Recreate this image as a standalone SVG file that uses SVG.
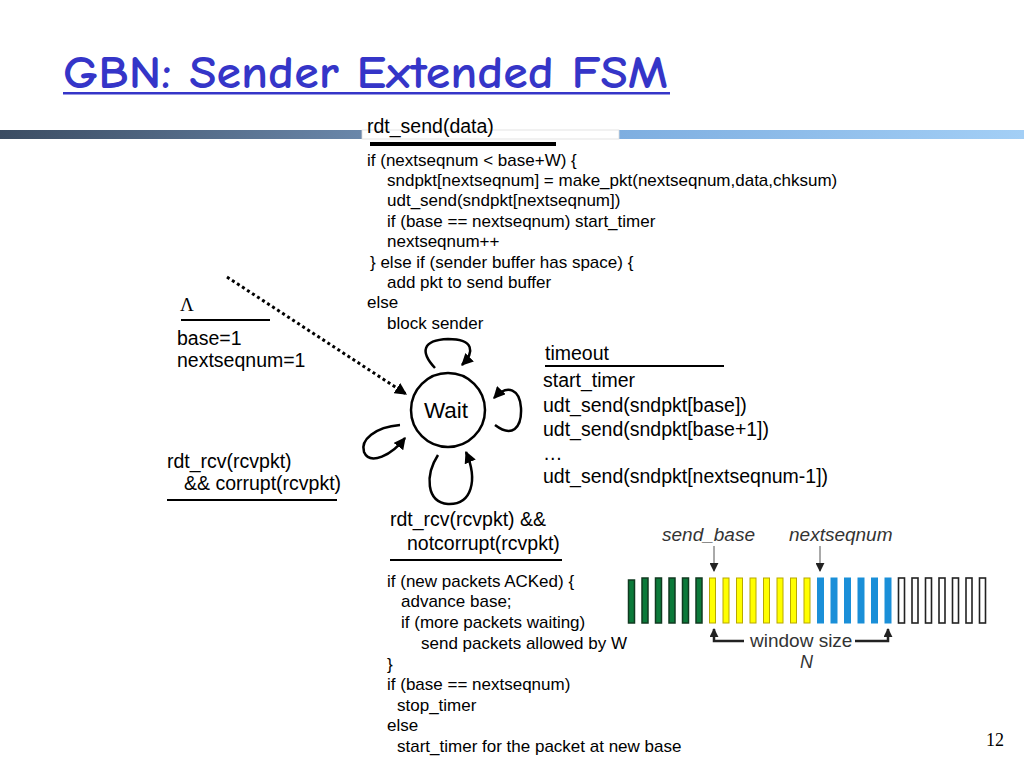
<svg xmlns="http://www.w3.org/2000/svg" width="1024" height="768" viewBox="0 0 1024 768">
<defs>
<linearGradient id="gl" x1="0" y1="0" x2="1" y2="0"><stop offset="0" stop-color="#3b4c62"/><stop offset="1" stop-color="#6a87aa"/></linearGradient>
<linearGradient id="gr" x1="0" y1="0" x2="1" y2="0"><stop offset="0" stop-color="#7eaee0"/><stop offset="1" stop-color="#a3cff6"/></linearGradient>
<marker id="ahs" viewBox="0 0 10 10" refX="9" refY="5" markerWidth="12" markerHeight="12" orient="auto" markerUnits="userSpaceOnUse"><path d="M0,0 L10,5 L0,10 z" fill="#000"/></marker>
<marker id="ahk" viewBox="0 0 10 10" refX="9" refY="5" markerWidth="9" markerHeight="9" orient="auto" markerUnits="userSpaceOnUse"><path d="M0,0 L10,5 L0,10 z" fill="#222"/></marker>
</defs>
<style>
.t{font-family:"Liberation Sans",Arial,sans-serif;fill:#000}
.c{font-size:17px}
.m{font-size:19.5px}
.rule{stroke:#000;stroke-width:2}
.loop{fill:none;stroke:#000;stroke-width:2.5;marker-end:url(#ahs)}
.pg{fill:#0b7a3a;stroke:#103a20;stroke-width:1.5}
.py{fill:#ffff00;stroke:#b8a800;stroke-width:1}
.pb{fill:#1a8fd8;stroke:#1a8fd8;stroke-width:1}
.ph{fill:#fff;stroke:#222;stroke-width:1.6}
.w{font-family:"Liberation Sans",Arial,sans-serif;fill:#333}
</style>
<rect width="1024" height="768" fill="#fff"/>
<g id="title">
<text x="63" y="88" font-family="'Comic Neue','DejaVu Sans',sans-serif" font-size="46" font-weight="700" fill="#3535c8" textLength="605" lengthAdjust="spacingAndGlyphs">GBN: Sender Extended FSM</text>
<rect x="63" y="92" width="607" height="2.5" fill="#3535c8"/>
</g>
<g id="bar">
<rect x="0" y="130" width="362" height="9" fill="url(#gl)"/>
<rect x="619" y="130" width="405" height="9" fill="url(#gr)"/>
<rect x="362" y="130" width="257" height="9" fill="#fff" stroke="#ddd" stroke-width="0.8"/>
</g>
<g id="rdt_send_label">
<text class="t m" x="367" y="133">rdt_send(data)</text>
<rect x="370" y="142" width="186" height="4" fill="#000"/>
<text class="t c">
<tspan x="367" y="166">if (nextseqnum &lt; base+W) {</tspan>
<tspan x="387" y="186">sndpkt[nextseqnum] = make_pkt(nextseqnum,data,chksum)</tspan>
<tspan x="387" y="206">udt_send(sndpkt[nextseqnum])</tspan>
<tspan x="387" y="227">if (base == nextseqnum) start_timer</tspan>
<tspan x="387" y="247">nextseqnum++</tspan>
<tspan x="370" y="268">} else if (sender buffer has space) {</tspan>
<tspan x="387" y="288">add pkt to send buffer</tspan>
<tspan x="367" y="308">else</tspan>
<tspan x="387" y="329">block sender</tspan>
</text>
</g>
<g id="init_label">
<text x="180" y="311" font-family="'Liberation Serif',serif" font-size="19">Λ</text>
<line class="rule" x1="181" y1="320" x2="270" y2="320"/>
<text class="t m" x="177" y="345">base=1</text>
<text class="t m" x="177" y="367">nextseqnum=1</text>
</g>
<g id="corrupt_label">
<text class="t m" x="167" y="468">rdt_rcv(rcvpkt)</text>
<text class="t m" x="184" y="490">&amp;&amp; corrupt(rcvpkt)</text>
<line class="rule" x1="167" y1="500" x2="337" y2="500"/>
</g>
<g id="timeout_label">
<text class="t m" x="545" y="360">timeout</text>
<line class="rule" x1="545" y1="366" x2="724" y2="366"/>
<text class="t m" x="543" y="387">start_timer</text>
<text class="t m" x="543" y="412">udt_send(sndpkt[base])</text>
<text class="t m" x="543" y="436">udt_send(sndpkt[base+1])</text>
<text class="t m" x="543" y="460">…</text>
<text class="t m" x="543" y="483">udt_send(sndpkt[nextseqnum-1])</text>
</g>
<g id="ack_label">
<text class="t m" x="390" y="526">rdt_rcv(rcvpkt) &amp;&amp;</text>
<text class="t m" x="407" y="550">notcorrupt(rcvpkt)</text>
<line class="rule" x1="390" y1="560" x2="562" y2="560"/>
<text class="t c">
<tspan x="387" y="587">if (new packets ACKed) {</tspan>
<tspan x="401" y="607">advance base;</tspan>
<tspan x="401" y="628">if (more packets waiting)</tspan>
<tspan x="421" y="649">send packets allowed by W</tspan>
<tspan x="387" y="670">}</tspan>
<tspan x="387" y="690">if (base == nextseqnum)</tspan>
<tspan x="397" y="711">stop_timer</tspan>
<tspan x="387" y="731">else</tspan>
<tspan x="397" y="752">start_timer for the packet at new base</tspan>
</text>
</g>
<g id="wait">
<circle cx="448" cy="410" r="37" fill="#fff" stroke="#000" stroke-width="2.5"/>
<text class="t" x="446" y="418" font-size="22.5" text-anchor="middle">Wait</text>
</g>
<g id="connectors">
<line x1="227" y1="277" x2="406" y2="394" stroke="#000" stroke-width="3" stroke-dasharray="3,3" marker-end="url(#ahs)"/>
<path class="loop" d="M435,368 C420,352 422,340 448,339 C474,339 475,352 462,365"/>
<path class="loop" d="M495,425 C512,438 522,428 521,408 C520,390 508,383 494,398"/>
<path class="loop" d="M400,425 C375,427 360,440 364,452 C370,466 392,455 405,438"/>
<path class="loop" d="M438,455 C425,475 426,502 448,504 C472,505 478,480 466,452"/>
</g>
<g id="window">
<text class="w" x="662" y="541" font-size="19" font-style="italic">send_base</text>
<text class="w" x="789" y="541" font-size="19" font-style="italic">nextseqnum</text>
<line x1="714" y1="546" x2="714" y2="571" stroke="#555" stroke-width="1" marker-end="url(#ahk)"/>
<line x1="820" y1="546" x2="820" y2="571" stroke="#555" stroke-width="1" marker-end="url(#ahk)"/>
<g id="packets">
<rect class="pg" x="628.5" y="580" width="6" height="43"/>
<rect class="pg" x="642" y="578" width="6" height="45"/>
<rect class="pg" x="655.5" y="578" width="6" height="45"/>
<rect class="pg" x="669" y="578" width="6" height="45"/>
<rect class="pg" x="682.5" y="578" width="6" height="45"/>
<rect class="pg" x="696" y="578" width="6" height="45"/>
<rect class="py" x="709.5" y="578" width="6" height="45"/>
<rect class="py" x="723" y="578" width="6" height="45"/>
<rect class="py" x="736.5" y="578" width="6" height="45"/>
<rect class="py" x="750" y="578" width="6" height="45"/>
<rect class="py" x="763.5" y="578" width="6" height="45"/>
<rect class="py" x="777" y="578" width="6" height="45"/>
<rect class="py" x="790.5" y="578" width="6" height="45"/>
<rect class="py" x="804" y="578" width="6" height="45"/>
<rect class="pb" x="817.5" y="578" width="6" height="45"/>
<rect class="pb" x="831" y="578" width="6" height="45"/>
<rect class="pb" x="844.5" y="578" width="6" height="45"/>
<rect class="pb" x="858" y="578" width="6" height="45"/>
<rect class="pb" x="871.5" y="578" width="6" height="45"/>
<rect class="pb" x="885" y="578" width="6" height="45"/>
<rect class="ph" x="898.5" y="578" width="6" height="45"/>
<rect class="ph" x="912" y="578" width="6" height="45"/>
<rect class="ph" x="925.5" y="578" width="6" height="45"/>
<rect class="ph" x="939" y="578" width="6" height="45"/>
<rect class="ph" x="952.5" y="578" width="6" height="45"/>
<rect class="ph" x="966" y="578" width="6" height="45"/>
<rect class="ph" x="979.5" y="578" width="6" height="45"/>
</g>
<path d="M744,641 H714 V629" fill="none" stroke="#222" stroke-width="2.5" marker-end="url(#ahk)"/>
<path d="M855,641 H888 V629" fill="none" stroke="#222" stroke-width="2.5" marker-end="url(#ahk)"/>
<text class="w" x="750" y="647" font-size="19">window size</text>
<text class="w" x="800" y="668" font-size="18" font-style="italic">N</text>
</g>
<text x="986" y="746" font-family="'Liberation Serif',serif" font-size="18" fill="#000">12</text>
</svg>
